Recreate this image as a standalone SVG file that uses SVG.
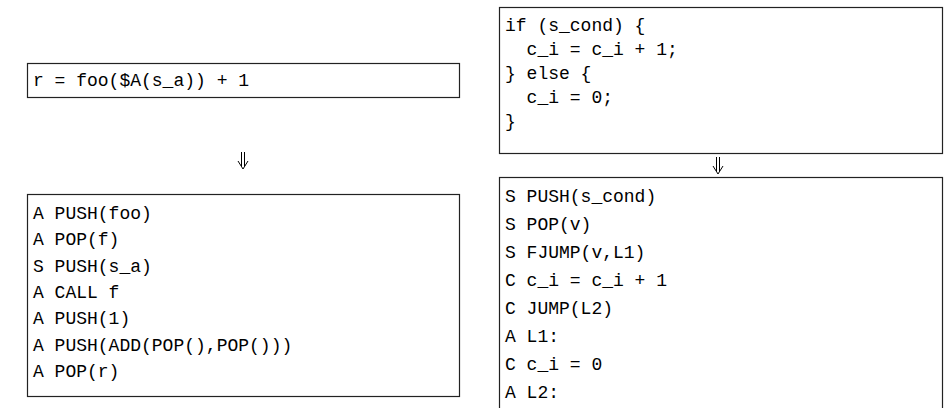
<svg xmlns="http://www.w3.org/2000/svg" width="946" height="408" viewBox="0 0 946 408">
<style>
.box{fill:#fff;stroke:#222;stroke-width:1.2}
.t{font-family:"Liberation Mono","DejaVu Sans Mono",monospace;font-size:18px;fill:#000;white-space:pre}
.arr{fill:none;stroke:#000;stroke-width:1}
</style>
<rect width="946" height="408" fill="#fff"/>
<g id="src1">
<rect class="box" x="27.5" y="63.5" width="432" height="34"/>
<text class="t" x="33" y="86" xml:space="preserve">r = foo($A(s_a)) + 1</text>
</g>
<g id="out1">
<rect class="box" x="27.5" y="194.5" width="432" height="202"/>
<text class="t" xml:space="preserve"><tspan x="33" y="219">A PUSH(foo)</tspan><tspan x="33" y="245.3">A POP(f)</tspan><tspan x="33" y="271.6">S PUSH(s_a)</tspan><tspan x="33" y="297.9">A CALL f</tspan><tspan x="33" y="324.2">A PUSH(1)</tspan><tspan x="33" y="350.5">A PUSH(ADD(POP(),POP()))</tspan><tspan x="33" y="376.8">A POP(r)</tspan></text>
</g>
<g id="src2">
<rect class="box" x="499.5" y="7.5" width="443" height="146"/>
<text class="t" xml:space="preserve"><tspan x="505" y="31">if (s_cond) {</tspan><tspan x="505" y="55">  c_i = c_i + 1;</tspan><tspan x="505" y="79">} else {</tspan><tspan x="505" y="103">  c_i = 0;</tspan><tspan x="505" y="127">}</tspan></text>
</g>
<g id="out2">
<rect class="box" x="499.5" y="177.5" width="443" height="240"/>
<text class="t" xml:space="preserve"><tspan x="505" y="202">S PUSH(s_cond)</tspan><tspan x="505" y="230">S POP(v)</tspan><tspan x="505" y="258">S FJUMP(v,L1)</tspan><tspan x="505" y="286">C c_i = c_i + 1</tspan><tspan x="505" y="314">C JUMP(L2)</tspan><tspan x="505" y="342">A L1:</tspan><tspan x="505" y="370">C c_i = 0</tspan><tspan x="505" y="398">A L2:</tspan></text>
</g>
<g id="connectors">
<path class="arr" d="M241.5,152 V166 M244.5,152 V166 M238,161 L243,169 L248,161"/>
<path class="arr" d="M716.5,157 V171 M719.5,157 V171 M713,166 L718,174 L723,166"/>
</g>
</svg>
